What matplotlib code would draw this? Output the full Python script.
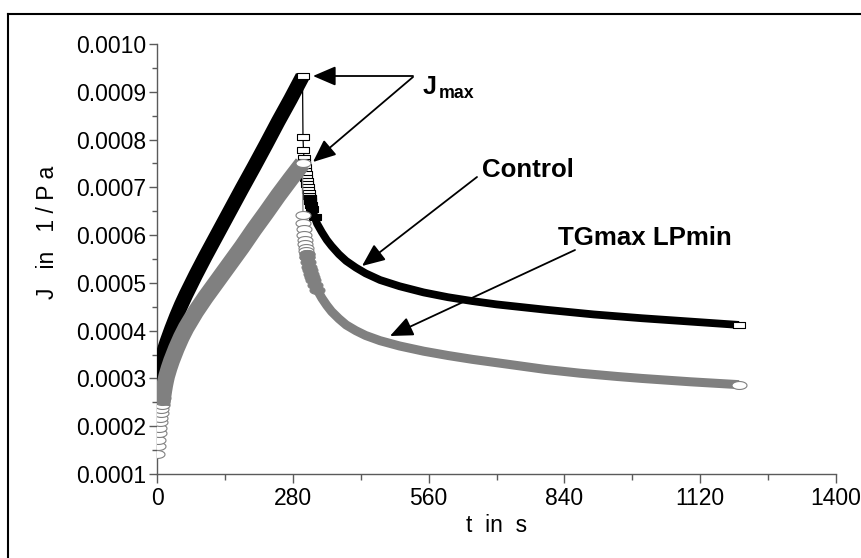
import numpy as np
import matplotlib
matplotlib.use('Agg')
import matplotlib.pyplot as plt
from matplotlib.lines import Line2D

plt.rcParams['font.family'] = ['Liberation Sans', 'DejaVu Sans']

# ---------------- data ----------------
ctrl_creep_t = [0, 2, 5, 10, 15, 20, 30, 40, 50, 60, 80, 100, 125, 150, 175, 200, 225, 250, 275, 300]
ctrl_creep_J = [0.000290, 0.000303, 0.000320, 0.000342, 0.000360, 0.000376, 0.000404, 0.000430,
                0.000454, 0.000476, 0.000517, 0.000556, 0.000603, 0.000650, 0.000697, 0.000743,
                0.000790, 0.000838, 0.000884, 0.000932]

ctrl_rec_t = [301, 302, 303, 304, 305, 306, 307, 308, 309, 310, 311, 312, 313, 314, 315, 316, 318,
              320, 325, 330, 340, 350, 360, 375, 390, 410, 430, 460, 500, 550, 600, 650, 700,
              800, 900, 1000, 1100, 1200]
ctrl_rec_J = [0.000805, 0.000778, 0.000762, 0.000752, 0.000743, 0.000735, 0.000727, 0.000720,
              0.000713, 0.000706, 0.000700, 0.000694, 0.000688, 0.000682, 0.000677, 0.000672,
              0.000663, 0.000655, 0.000638, 0.000624, 0.000606, 0.000590, 0.000577, 0.000560,
              0.000546, 0.000532, 0.000520, 0.000506, 0.000493, 0.000480, 0.000470, 0.000462,
              0.000455, 0.000444, 0.000434, 0.000426, 0.000419, 0.000412]

tg_creep_t = [1, 2, 3, 4, 5, 6, 7, 8, 9, 10, 11, 12, 14, 16, 18, 20, 25, 30, 40, 50, 60, 80, 100,
              125, 150, 175, 200, 225, 250, 275, 300]
tg_creep_J = [0.000142, 0.000158, 0.000172, 0.000185, 0.000197, 0.000208, 0.000218, 0.000227,
              0.000236, 0.000244, 0.000252, 0.000260, 0.000274, 0.000286, 0.000296, 0.000305,
              0.000322, 0.000337, 0.000363, 0.000386, 0.000406, 0.000440, 0.000470, 0.000505,
              0.000540, 0.000575, 0.000612, 0.000647, 0.000683, 0.000717, 0.000750]

tg_rec_t = [301, 302, 303, 304, 305, 306, 307, 308, 309, 310, 312, 314, 316, 318, 320, 322, 326,
            330, 340, 350, 360, 375, 390, 410, 430, 460, 500, 550, 600, 650, 700, 750, 800, 872,
            950, 1000, 1100, 1200]
tg_rec_J = [0.000642, 0.000626, 0.000612, 0.000600, 0.000590, 0.000581, 0.000573, 0.000566,
            0.000560, 0.000554, 0.000543, 0.000534, 0.000526, 0.000519, 0.000513, 0.000506,
            0.000496, 0.000486, 0.000468, 0.000453, 0.000440, 0.000425, 0.000412, 0.000400,
            0.000390, 0.000379, 0.000368, 0.000357, 0.000348, 0.000340, 0.000333, 0.000326,
            0.000319, 0.000311, 0.000304, 0.000300, 0.000293, 0.000287]

x_ticks = [0, 280, 560, 840, 1120, 1400]
x_minor = [140, 420, 700, 980, 1260]
y_ticks = [0.0001, 0.0002, 0.0003, 0.0004, 0.0005, 0.0006, 0.0007, 0.0008, 0.0009, 0.0010]
y_minor = [0.00015, 0.00025, 0.00035, 0.00045, 0.00055, 0.00065, 0.00075, 0.00085, 0.00095]
y_tick_labels = ['0.0001', '0.0002', '0.0003', '0.0004', '0.0005', '0.0006', '0.0007',
                 '0.0008', '0.0009', '0.0010']

labels = {'jmax': 'J', 'jmax_sub': 'max', 'ctrl': 'Control', 'tg': 'TGmax LPmin',
          'x': 't  in  s', 'y': 'J   in   1 / P a'}

# ---------------- figure ----------------
W, H = 861, 558
fig = plt.figure(figsize=(W / 100, H / 100), dpi=100)
ax = fig.add_axes([157 / W, 1 - 474 / H, (836 - 157) / W, (474 - 44) / H])
ax.set_xlim(0, 1400)
ax.set_ylim(0.0001, 0.0010)

BLACK = '#000000'
GRAY = '#808080'

rect_m = [(-1, -0.5), (1, -0.5), (1, 0.5), (-1, 0.5), (-1, -0.5)]
th = np.linspace(0, 2 * np.pi, 61)
ell_m = list(zip(np.cos(th), 0.53 * np.sin(th)))
RECT_MS = 12 * 0.72
ELL_MS = 15 * 0.72
MEW = 0.8


def series(creep_t, creep_J, rec_t, rec_J, color, marker, ms, creep_lw, rec_lw,
           n_ring, band_start, n_open, solid_from, solid_to, zbase):
    all_t = list(creep_t) + list(rec_t)
    all_J = list(creep_J) + list(rec_J)
    ax.plot(all_t, all_J, color=color, lw=0.9, zorder=zbase)
    if n_ring:
        ax.plot(creep_t[:n_ring], creep_J[:n_ring], ls='none', marker=marker, ms=ms,
                mfc='white', mec=color, mew=MEW, zorder=zbase + 1)
    ax.plot(creep_t[band_start:], creep_J[band_start:], color=color, lw=creep_lw,
            solid_capstyle='butt', solid_joinstyle='round', zorder=zbase + 1)
    ax.plot(creep_t[-1:], creep_J[-1:], ls='none', marker=marker, ms=ms, mfc='white',
            mec=color, mew=MEW, zorder=zbase + 2)
    ax.plot(rec_t[:n_open], rec_J[:n_open], ls='none', marker=marker, ms=ms, mfc='white',
            mec=color, mew=MEW, zorder=zbase + 2)
    ax.plot(rec_t[solid_from:], rec_J[solid_from:], color=color, lw=rec_lw,
            solid_capstyle='butt', solid_joinstyle='round', zorder=zbase + 2)
    ax.plot(rec_t[solid_from:solid_to], rec_J[solid_from:solid_to], ls='none',
            marker=marker, ms=ms, mfc=color, mec=color, mew=MEW, zorder=zbase + 2)
    ax.plot(rec_t[-1:], rec_J[-1:], ls='none', marker=marker, ms=ms, mfc='white',
            mec=color, mew=MEW, zorder=zbase + 3)


series(ctrl_creep_t, ctrl_creep_J, ctrl_rec_t, ctrl_rec_J, BLACK, rect_m, RECT_MS,
       10.5, 5.6, 0, 0, 16, 14, 19, 2)
series(tg_creep_t, tg_creep_J, tg_rec_t, tg_rec_J, GRAY, ell_m, ELL_MS,
       12.0, 6.5, 12, 9, 10, 8, 18, 10)

# ---------------- axes styling ----------------
AXC = '#5a5a5a'
for s in ['top', 'right']:
    ax.spines[s].set_visible(False)
for s in ['left', 'bottom']:
    ax.spines[s].set_color(AXC)
    ax.spines[s].set_linewidth(1.0)

ax.set_xticks(x_ticks)
ax.set_xticks(x_minor, minor=True)
ax.set_xticklabels([str(v) for v in x_ticks])
ax.set_yticks(y_ticks)
ax.set_yticks(y_minor, minor=True)
ax.set_yticklabels(y_tick_labels)
ax.tick_params(axis='x', which='major', direction='out', length=6.5, width=1, color=AXC,
               labelsize=16.5, pad=3)
ax.tick_params(axis='x', which='minor', direction='out', length=4.5, width=1, color=AXC)
ax.tick_params(axis='y', which='major', direction='out', length=6, width=1, color=AXC,
               labelsize=16.5, pad=1.5)
ax.tick_params(axis='y', which='minor', direction='out', length=3.5, width=1, color=AXC)

fig.text(497 / W, 1 - 525 / H, labels['x'], ha='center', va='center', fontsize=16.5)
fig.text(48 / W, 1 - 232 / H, labels['y'], ha='center', va='center', rotation=90,
         fontsize=16.5)

# ---------------- annotations ----------------
def fp(x, y):
    return (x, H - y)


arrow_kw = dict(arrowstyle='-|>,head_length=0.7,head_width=0.3', mutation_scale=20,
                color='black', lw=1.3, shrinkA=0, shrinkB=0)
for start, tip in [((413, 76), (313, 76)), ((413, 77), (313, 162)),
                   ((477, 177), (362, 266)), ((575, 250), (390, 336))]:
    ax.annotate('', xy=fp(*tip), xytext=fp(*start), xycoords='figure pixels',
                textcoords='figure pixels', arrowprops=arrow_kw, annotation_clip=False)

fig.text(423 / W, 1 - 94 / H, labels['jmax'], fontsize=18, fontweight='bold',
         ha='left', va='baseline')
fig.text(439 / W, 1 - 98 / H, labels['jmax_sub'], fontsize=12.8, fontweight='bold',
         ha='left', va='baseline')
fig.text(482 / W, 1 - 177 / H, labels['ctrl'], fontsize=18.6, fontweight='bold',
         ha='left', va='baseline')
fig.text(558 / W, 1 - 245 / H, labels['tg'], fontsize=18.6, fontweight='bold',
         ha='left', va='baseline')

# ---------------- outer frame ----------------
fig.add_artist(Line2D([8 / W, 8 / W], [0, 1 - 14 / H], transform=fig.transFigure,
                      color='black', lw=1.5))
fig.add_artist(Line2D([8 / W, 1], [1 - 14 / H, 1 - 14 / H], transform=fig.transFigure,
                      color='black', lw=1.5))

fig.savefig('out.png', dpi=100)
